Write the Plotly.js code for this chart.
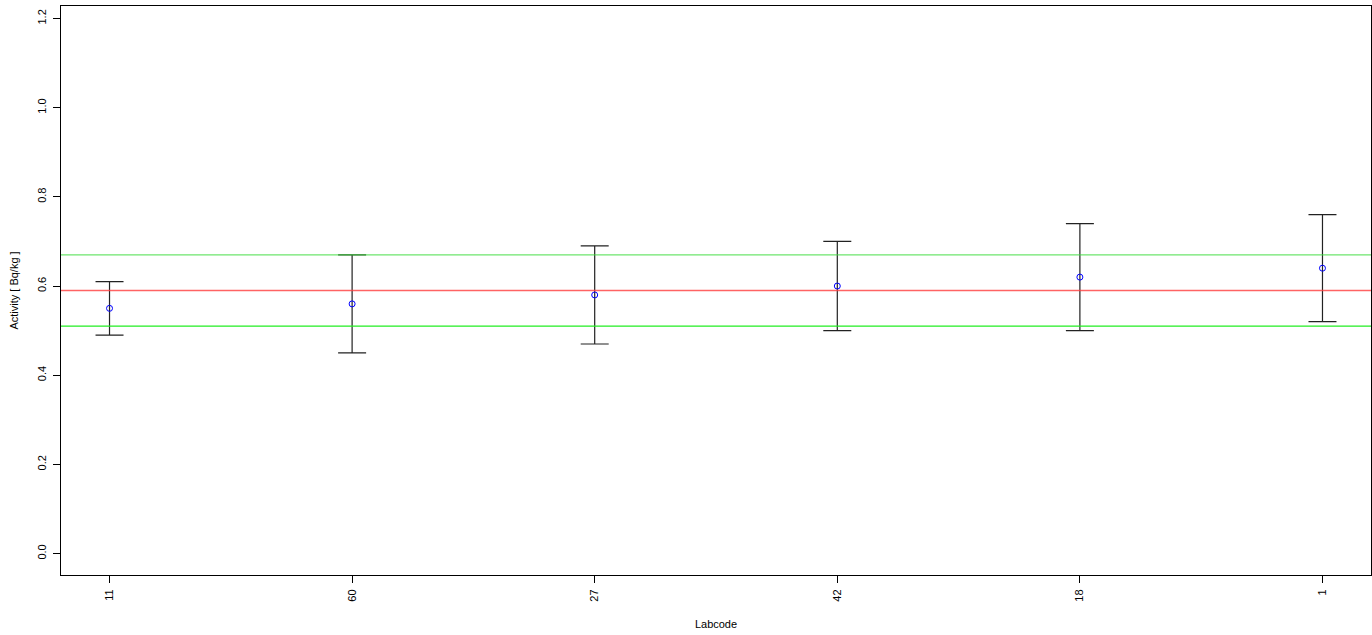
<!DOCTYPE html>
<html>
<head>
<meta charset="utf-8">
<script src="https://cdn.plot.ly/plotly-3.0.1.min.js"></script>
<style>html,body{margin:0;padding:0;background:#fff;}#chart{width:1372px;height:635px;}</style>
</head>
<body>
<div id="chart"></div>
<script>
const labcodes = ["11", "60", "27", "42", "18", "1"];
const activity = [0.55, 0.56, 0.58, 0.60, 0.62, 0.64];
const upperBound = [0.61, 0.67, 0.69, 0.70, 0.74, 0.76];
const lowerBound = [0.49, 0.45, 0.47, 0.50, 0.50, 0.52];
const refValue = 0.59;
const refUpper = 0.67;
const refLower = 0.51;
const yTicks = [0.0, 0.2, 0.4, 0.6, 0.8, 1.0, 1.2];

const errPlus = activity.map((v, i) => upperBound[i] - v);
const errMinus = activity.map((v, i) => v - lowerBound[i]);

const font = {family: 'Liberation Sans, Arial, sans-serif', size: 11, color: '#000'};

const trace = {
  x: labcodes,
  y: activity,
  type: 'scatter',
  mode: 'markers',
  marker: {symbol: 'circle-open', size: 6, color: '#0000ff', line: {width: 1, color: '#0000ff'}},
  error_y: {type: 'data', symmetric: false, array: errPlus, arrayminus: errMinus,
            color: '#222', thickness: 1.2, width: 14},
  showlegend: false,
  hoverinfo: 'x+y'
};

function hline(y, color) {
  return {type: 'line', xref: 'paper', x0: 0, x1: 1, yref: 'y', y0: y, y1: y,
          line: {color: color, width: 1.3}, layer: 'above'};
}

const layout = {
  width: 1372, height: 635,
  margin: {l: 61, r: 1, t: 6, b: 60},
  paper_bgcolor: '#fff', plot_bgcolor: '#fff',
  font: font,
  xaxis: {
    type: 'category', range: [-0.2, 5.2],
    tickvals: labcodes, ticktext: labcodes,
    tickangle: -90, ticks: 'outside', ticklen: 7, tickcolor: '#000',
    ticklabelstandoff: 2,
    showline: true, linecolor: '#000', linewidth: 1, mirror: true,
    showgrid: false, zeroline: false,
    title: {text: 'Labcode', font: font, standoff: 19},
    tickfont: font
  },
  yaxis: {
    range: [-0.048, 1.228],
    tickvals: yTicks, tickformat: '.1f',
    tickangle: -90, ticks: 'outside', ticklen: 7, tickcolor: '#000',
    ticklabelstandoff: 3,
    showline: true, linecolor: '#000', linewidth: 1, mirror: true,
    showgrid: false, zeroline: false,
    title: {text: 'Activity [ Bq/kg ]', font: font, standoff: 14},
    tickfont: font
  },
  shapes: [
    hline(refUpper, 'rgba(60,220,60,0.75)'),
    hline(refValue, 'rgba(255,60,60,0.8)'),
    hline(refLower, '#22ee22')
  ]
};

Plotly.newPlot('chart', [trace], layout, {displayModeBar: false, staticPlot: true});
</script>
</body>
</html>
